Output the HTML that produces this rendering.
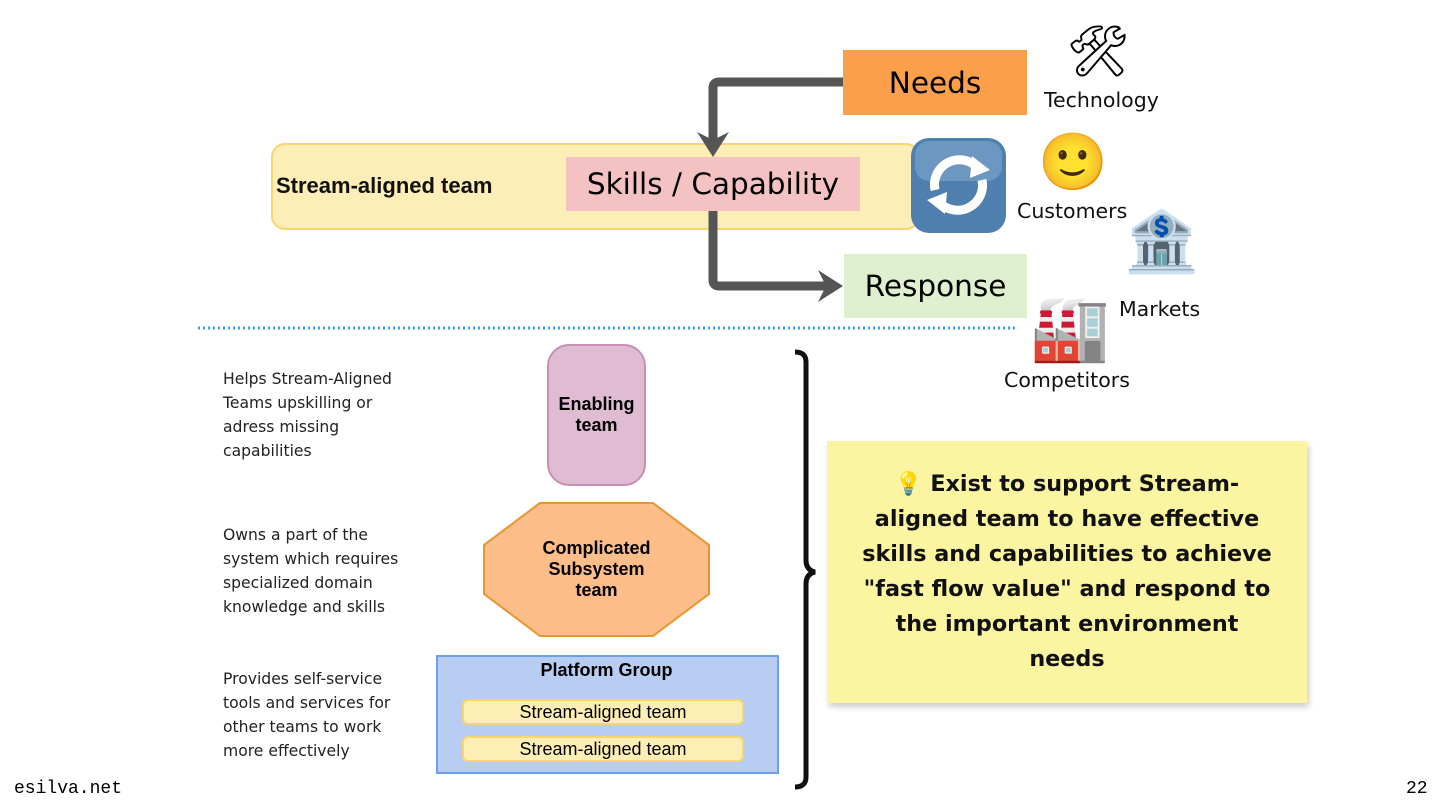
<!DOCTYPE html>
<html><head><meta charset="utf-8"><style>
body{margin:0;width:1440px;height:810px;background:#fff;position:relative;overflow:hidden;font-family:"Liberation Sans",sans-serif}
.a{position:absolute}
.c{display:flex;align-items:center;justify-content:center;text-align:center}
.sm{font-family:"DejaVu Sans","Liberation Sans",sans-serif;font-size:20.5px;color:#111}
.lt{font-family:"DejaVu Sans","Liberation Sans",sans-serif;font-size:15.6px;line-height:24px;color:#222}
.big{font-family:'DejaVu Sans',sans-serif;font-size:29.5px}
</style></head><body>
<div class="a" style="left:271px;top:143px;width:645px;height:83px;background:#fdedb6;border:2px solid #f6d670;border-radius:14px"></div>
<div class="a" style="left:276px;top:173px;font-weight:bold;font-size:22px;color:#111">Stream-aligned team</div>
<div class="a c big" style="left:843px;top:50px;width:184px;height:65px;background:#fb9f4b">Needs</div>
<div class="a c big" style="left:566px;top:157px;width:294px;height:54px;background:#f4c2c2">Skills / Capability</div>
<div class="a c big" style="left:844px;top:254px;width:183px;height:64px;background:#dfefcf">Response</div>
<svg class="a" style="left:0;top:0" width="1440" height="810">
<path d="M843 82 H719 Q713 82 713 88 V140" fill="none" stroke="#555" stroke-width="9"/>
<path d="M697 132 L713 157 L729 132 L713 140Z" fill="#555"/>
<path d="M713 211 V280 Q713 286 719 286 H826" fill="none" stroke="#555" stroke-width="9"/>
<path d="M818 270 L843 286 L818 302 L826 286Z" fill="#555"/>
<line x1="198" y1="328" x2="1018" y2="328" stroke="#3aa0e0" stroke-width="3" stroke-dasharray="2 3"/>
<rect x="911" y="138" width="95" height="95" rx="18" fill="#4f7fae"/>
<rect x="915" y="141" width="87" height="40" rx="14" fill="#7ea6cc" opacity=".6"/>
<path d="M935 190 A25 25 0 0 1 978 168" fill="none" stroke="#fff" stroke-width="9"/>
<path d="M972 156 L990 170 L970 178Z" fill="#fff"/>
<path d="M982 180 A25 25 0 0 1 939 202" fill="none" stroke="#fff" stroke-width="9"/>
<path d="M945 214 L927 200 L947 192Z" fill="#fff"/>
<polygon points="540,503 653,503 709,545 709,594 653,636 540,636 484,594 484,545" fill="#fdbd88" stroke="#e8952f" stroke-width="2"/>
<path d="M795 352 Q806 352 806 362 V560 Q806 570 815 572 Q806 574 806 584 V777 Q806 787 795 787" fill="none" stroke="#111" stroke-width="5"/>
</svg>
<div class="a" style="left:1066px;top:26px;font-size:50px;line-height:1">🛠</div>
<div class="a" style="left:1038px;top:134px;font-size:56px;line-height:1">🙂</div>
<div class="a" style="left:1124px;top:212px;font-size:60px;line-height:1">🏦</div>
<div class="a" style="left:1030px;top:296px;font-size:64px;line-height:1">🏭</div>
<div class="a sm" style="left:1044px;top:88px">Technology</div>
<div class="a sm" style="left:1017px;top:199px">Customers</div>
<div class="a sm" style="left:1119px;top:297px">Markets</div>
<div class="a sm" style="left:1004px;top:368px">Competitors</div>
<div class="a lt" style="left:223px;top:367px">Helps Stream-Aligned<br>Teams upskilling or<br>adress missing<br>capabilities</div>
<div class="a lt" style="left:223px;top:523px">Owns a part of the<br>system which requires<br>specialized domain<br>knowledge and skills</div>
<div class="a lt" style="left:223px;top:667px">Provides self-service<br>tools and services for<br>other teams to work<br>more effectively</div>
<div class="a c" style="left:547px;top:344px;width:95px;height:138px;background:#e0bcd3;border:2px solid #c98fb4;border-radius:22px;font-weight:bold;font-size:18px;line-height:21px">Enabling<br>team</div>
<div class="a c" style="left:484px;top:503px;width:225px;height:133px;font-weight:bold;font-size:18px;line-height:21px">Complicated<br>Subsystem<br>team</div>
<div class="a" style="left:436px;top:655px;width:339px;height:115px;background:#b7cdf2;border:2px solid #6e9ee8"></div>
<div class="a" style="left:436px;top:660px;width:341px;text-align:center;font-weight:bold;font-size:18px">Platform Group</div>
<div class="a c" style="left:462px;top:699px;width:278px;height:22px;background:#fdeeb5;border:2px solid #f6d670;border-radius:6px;font-size:18px">Stream-aligned team</div>
<div class="a c" style="left:462px;top:736px;width:278px;height:22px;background:#fdeeb5;border:2px solid #f6d670;border-radius:6px;font-size:18px">Stream-aligned team</div>
<div class="a c" style="left:827px;top:441px;width:480px;height:262px;background:#fbf4a0;box-shadow:2px 4px 6px rgba(0,0,0,.2);font-family:'DejaVu Sans',sans-serif;font-weight:bold;font-size:22.3px;line-height:35px;color:#111"><div style="white-space:nowrap">💡 Exist to support Stream-<br>aligned team to have effective<br>skills and capabilities to achieve<br>"fast flow value" and respond to<br>the important environment<br>needs</div></div>
<div class="a" style="left:14px;top:779px;font-family:'Liberation Mono',monospace;font-size:18px">esilva.net</div>
<div class="a" style="left:1406px;top:779px;font-family:'Liberation Mono',monospace;font-size:18px">22</div>
</body></html>
